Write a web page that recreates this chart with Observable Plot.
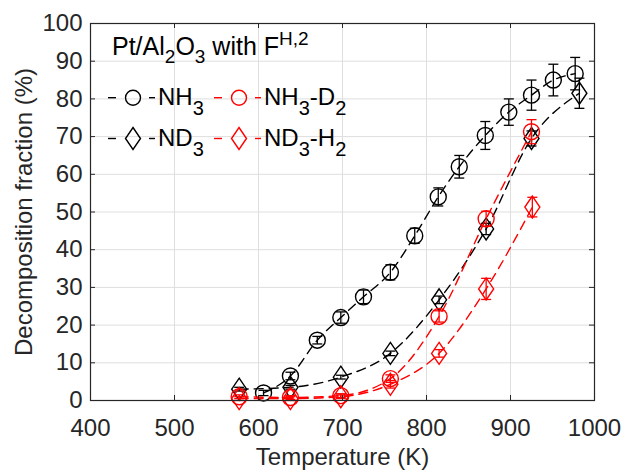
<!DOCTYPE html>
<html><head><meta charset="utf-8">
<script src="https://cdn.jsdelivr.net/npm/d3@7"></script>
<script src="https://cdn.jsdelivr.net/npm/@observablehq/plot@0.6"></script>
<style>
body{margin:0;background:#fff}
#chart{width:622px;height:471px}
</style>
</head><body><div id="chart"></div>
<script>
// ---- data ----
const tempNH3 = [606, 638, 670, 698, 725, 757, 786, 814, 839, 870, 898, 925, 951, 977];
const valNH3  = [2, 6.5, 16, 22, 27.5, 34, 43.7, 54, 62, 70.3, 76.5, 81, 85, 86.7];
const errNH3  = [0.7, 1, 1, 1.5, 1.8, 2, 2, 2.4, 3, 3.7, 3.5, 4, 4.2, 4.3];

const tempND3 = [577, 638, 698, 757, 815, 871, 925, 982];
const valND3  = [3, 3.5, 6.2, 12.5, 26.7, 45.5, 69.5, 81.5];
const errND3  = [0.5, 0.5, 0.5, 0.6, 1, 1.5, 2, 4];

const tempNH3D2 = [577, 638, 698, 757, 815, 871, 925];
const valNH3D2  = [1, 0.8, 1.3, 5.8, 22.3, 48.2, 71.3];
const errNH3D2  = [0.5, 0.5, 0.5, 1, 1.5, 2, 3.2];

const tempND3H2 = [577, 638, 698, 757, 815, 871, 926];
const valND3H2  = [0.5, 0.5, 1, 4.3, 12.5, 29.6, 51.3];
const errND3H2  = [0.5, 0.5, 0.5, 1, 1, 2.8, 2.6];

const xTicks = [400, 500, 600, 700, 800, 900, 1000];
const yTicks = [0, 10, 20, 30, 40, 50, 60, 70, 80, 90, 100];

const xLabel = "Temperature (K)";
const yLabel = "Decomposition fraction (%)";

// ---- styles ----
const FONT = "'Liberation Sans', Arial, Helvetica, sans-serif";
const AX = "#262626";
const diamondSym = {draw(ctx) { const w = 7.5, h = 11; ctx.moveTo(0, -h); ctx.lineTo(w, 0); ctx.lineTo(0, h); ctx.lineTo(-w, 0); ctx.closePath(); }};
const capSym = {draw(ctx) { ctx.moveTo(-5, 0); ctx.lineTo(5, 0); }};

const series = [
  {t: tempNH3, v: valNH3, e: errNH3, color: "#000000", sym: "circle"},
  {t: tempND3, v: valND3, e: errND3, color: "#000000", sym: diamondSym},
  {t: tempNH3D2, v: valNH3D2, e: errNH3D2, color: "#ff0000", sym: "circle"},
  {t: tempND3H2, v: valND3H2, e: errND3H2, color: "#ff0000", sym: diamondSym}
];

const marks = [
  Plot.ruleX(xTicks, {x: d => d, stroke: "#dedede", strokeWidth: 1}),
  Plot.ruleY(yTicks, {y: d => d, stroke: "#dedede", strokeWidth: 1})
];

for (const s of series) {
  const data = s.t.map((t, i) => ({t, v: s.v[i], e: s.e[i]}));
  marks.push(
    Plot.line(data, {x: "t", y: "v", stroke: s.color, strokeWidth: 1.4, strokeDasharray: "9,6", curve: "monotone-x"}),
    Plot.link(data, {x1: "t", x2: "t", y1: d => d.v - d.e, y2: d => d.v + d.e, stroke: s.color, strokeWidth: 1.3}),
    Plot.dot(data, {x: "t", y: d => d.v + d.e, symbol: capSym, r: 3, stroke: s.color, strokeWidth: 1.3}),
    Plot.dot(data, {x: "t", y: d => d.v - d.e, symbol: capSym, r: 3, stroke: s.color, strokeWidth: 1.3}),
    Plot.dot(data, {x: "t", y: "v", symbol: s.sym, r: 8, stroke: s.color, fill: "none", strokeWidth: 1.4})
  );
}

marks.push(
  Plot.tickX(xTicks, {x: d => d, insetTop: 372, stroke: AX}),
  Plot.tickX(xTicks, {x: d => d, insetBottom: 372, stroke: AX}),
  Plot.tickY(yTicks, {y: d => d, insetRight: 499, stroke: AX}),
  Plot.tickY(yTicks, {y: d => d, insetLeft: 499, stroke: AX}),
  Plot.frame({stroke: AX, strokeWidth: 1.2}),
  Plot.axisX(xTicks, {tickSize: 0, tickPadding: 18, fontSize: 24, fill: AX, label: null, tickFormat: d => String(d)}),
  Plot.axisY(yTicks, {tickSize: 0, tickPadding: 8, fontSize: 24, fill: AX, label: null, tickFormat: d => String(d)}),
  Plot.text([xLabel], {frameAnchor: "bottom", dy: 57, fontSize: 24, fill: AX, lineAnchor: "middle", textAnchor: "middle"}),
  Plot.text([yLabel], {frameAnchor: "left", dx: -66, rotate: -90, fontSize: 24, fill: AX, lineAnchor: "middle", textAnchor: "middle"})
);

const chart = Plot.plot({
  width: 622, height: 471,
  marginLeft: 90, marginRight: 28, marginTop: 23, marginBottom: 71,
  x: {domain: [400, 1000]},
  y: {domain: [0, 100]},
  style: {fontFamily: FONT, background: "#fff", color: AX},
  marks
});
document.getElementById("chart").appendChild(chart);

// ---- legend (inside plot area) ----
const svg = d3.select(chart);
const g = svg.append("g").attr("font-family", FONT).attr("fill", "#000").attr("text-anchor", "start");
const title = g.append("text").attr("x", 112).attr("y", 55).attr("font-size", 25);
title.append("tspan").text("Pt/Al");
title.append("tspan").attr("dy", 8).attr("font-size", 19).text("2");
title.append("tspan").attr("dy", -8).text("O");
title.append("tspan").attr("dy", 8).attr("font-size", 19).text("3");
title.append("tspan").attr("dy", -8).text(" with F");
title.append("tspan").attr("dy", -10).attr("font-size", 19).text("H,2");

const legendItems = [
  {x0: 108, y: 97.7, color: "#000", sym: "circle", parts: [["NH"], ["3", 1]]},
  {x0: 214, y: 97.7, color: "#f00", sym: "circle", parts: [["NH"], ["3", 1], ["-D"], ["2", 1]]},
  {x0: 108, y: 138.5, color: "#000", sym: "diamond", parts: [["ND"], ["3", 1]]},
  {x0: 214, y: 138.5, color: "#f00", sym: "diamond", parts: [["ND"], ["3", 1], ["-H"], ["2", 1]]}
];
for (const it of legendItems) {
  const cx = it.x0 + 25;
  g.append("line").attr("x1", it.x0).attr("x2", it.x0 + 8).attr("y1", it.y).attr("y2", it.y).attr("stroke", it.color).attr("stroke-width", 1.4);
  g.append("line").attr("x1", it.x0 + 41).attr("x2", it.x0 + 47).attr("y1", it.y).attr("y2", it.y).attr("stroke", it.color).attr("stroke-width", 1.4);
  if (it.sym === "circle") {
    g.append("circle").attr("cx", cx).attr("cy", it.y).attr("r", 7.5).attr("fill", "none").attr("stroke", it.color).attr("stroke-width", 1.4);
  } else {
    g.append("path").attr("d", `M${cx},${it.y - 11}L${cx + 7.5},${it.y}L${cx},${it.y + 11}L${cx - 7.5},${it.y}Z`).attr("fill", "none").attr("stroke", it.color).attr("stroke-width", 1.4);
  }
  const t = g.append("text").attr("x", it.x0 + 50).attr("y", it.y + 7.5).attr("font-size", 24).attr("fill", "#000");
  let sub = false;
  for (const [s, isSub] of it.parts) {
    const span = t.append("tspan").text(s);
    if (isSub && !sub) { span.attr("dy", 10).attr("font-size", 20); sub = true; }
    else if (isSub) { span.attr("font-size", 20); }
    else if (sub) { span.attr("dy", -10); sub = false; }
  }
}
</script>
</body></html>
